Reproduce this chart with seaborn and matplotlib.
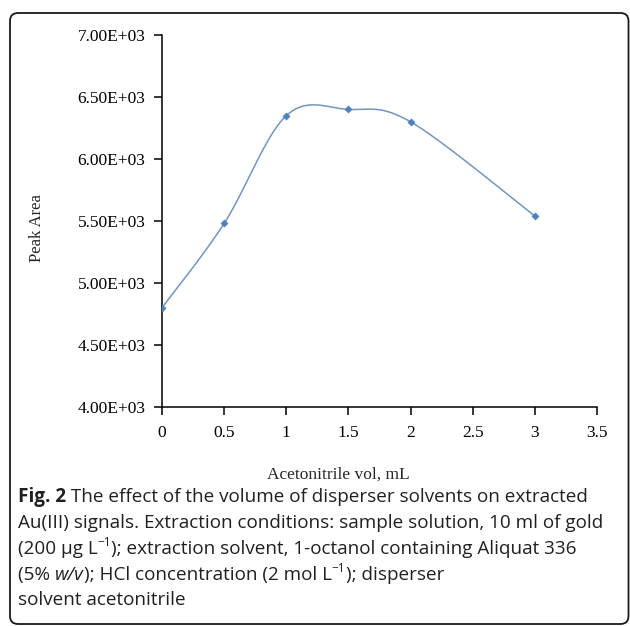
import numpy as np
import matplotlib
matplotlib.use("Agg")
import matplotlib.pyplot as plt
from matplotlib.patches import FancyBboxPatch
from matplotlib.ticker import FuncFormatter, MultipleLocator
import seaborn as sns

# data
vol = [0, 0.5, 1, 1.5, 2, 3]
area = [4800, 5480, 6350, 6400, 6300, 5540]

xticks = [0, 0.5, 1, 1.5, 2, 2.5, 3, 3.5]
xlabel = "Acetonitrile vol, mL"
ylabel = "Peak Area"

# caption lines: (text, style, position)
caption = [
    [("Fig. 2", "bold", None), (" The effect of the volume of disperser solvents on extracted", None, None)],
    [("Au(III) signals. Extraction conditions: sample solution, 10 ml of gold", None, None)],
    [("(200 μg L", None, None), ("−1", None, "sup"), ("); extraction solvent, 1-octanol containing Aliquat 336", None, None)],
    [("(5% ", None, None), ("w/v", "italic", None), ("); HCl concentration (2 mol L", None, None), ("−1", None, "sup"), ("); disperser", None, None)],
    [("solvent acetonitrile", None, None)],
]

sns.set_style("white")
plt.rcParams["font.family"] = ["Liberation Serif", "DejaVu Serif"]


def excel_smooth(x, y, sx, sy, n=40):
    # catmull-rom style bezier like excel "smoothed line", done in screen units
    px = np.asarray(x, float) * sx
    py = np.asarray(y, float) * sy
    pts = np.column_stack([px, py])
    out = []
    for i in range(len(pts) - 1):
        p0 = pts[i - 1] if i > 0 else pts[i]
        p1 = pts[i]
        p2 = pts[i + 1]
        p3 = pts[i + 2] if i + 2 < len(pts) else pts[i + 1]
        c1 = p1 + (p2 - p0) / 6
        c2 = p2 - (p3 - p1) / 6
        t = np.linspace(0, 1, n)[:, None]
        seg = (1 - t) ** 3 * p1 + 3 * (1 - t) ** 2 * t * c1 + 3 * (1 - t) * t ** 2 * c2 + t ** 3 * p2
        out.append(seg if i == 0 else seg[1:])
    out = np.vstack(out)
    return out[:, 0] / sx, out[:, 1] / sy


fig = plt.figure(figsize=(6.3, 6.26), dpi=100)

# background layer in pixel units for the frame and caption
bg = fig.add_axes([0, 0, 1, 1], zorder=0)
bg.set_xlim(0, 630)
bg.set_ylim(626, 0)
bg.axis("off")
frame = FancyBboxPatch((10, 13), 618.5, 611, boxstyle="round,pad=0,rounding_size=8",
                       fc="white", ec="#1a1a1a", lw=1.3)
bg.add_patch(frame)

ax = fig.add_axes([162 / 630, 1 - 407 / 626, 435 / 630, 372 / 626], zorder=1)
ax.patch.set_alpha(0)

sx = 435 / 3.5
sy = 372 / 3000
cx, cy = excel_smooth(vol, area, sx, sy)
sns.lineplot(x=cx, y=cy, ax=ax, color="#7396bc", lw=1.1, sort=False, estimator=None)
sns.scatterplot(x=vol, y=area, ax=ax, marker="D", s=14, color="#4f81bd", edgecolor="#4f81bd", zorder=3)

ax.set_xlim(0, 3.5)
ax.set_ylim(4000, 7000)
ax.set_xticks(xticks)
ax.set_xticklabels([f"{v:g}" for v in xticks])
ax.yaxis.set_major_locator(MultipleLocator(500))
ax.yaxis.set_major_formatter(FuncFormatter(lambda v, p: f"{v:.2E}"))
for s in ["top", "right"]:
    ax.spines[s].set_visible(False)
for s in ["left", "bottom"]:
    ax.spines[s].set_color("black")
    ax.spines[s].set_linewidth(1.1)
ax.tick_params(axis="both", direction="out", length=6, width=1.1, color="black",
               labelsize=12.5, labelcolor="black", bottom=True, left=True)
ax.tick_params(axis="x", pad=7)
ax.tick_params(axis="y", pad=6)
ax.set_xlabel(xlabel, fontsize=12.5)
ax.set_ylabel(ylabel, fontsize=12)
ax.xaxis.set_label_coords(0.405, -0.161)
ax.yaxis.set_label_coords(-0.269, 0.481)

# caption, drawn piece by piece (bold / italic / superscript runs)
fig.canvas.draw()
renderer = fig.canvas.get_renderer()
cap_size = 13.6
cap_font = ["Open Sans", "DejaVu Sans"]
baselines = [502, 528, 554, 580, 605]
for line, base in zip(caption, baselines):
    x = 18
    for txt, style, pos in line:
        kw = dict(family=cap_font, fontsize=cap_size, color="#231f20", va="baseline", ha="left")
        y = base
        if style == "bold":
            kw["weight"] = "bold"
        if style == "italic":
            kw["style"] = "italic"
        if pos == "sup":
            kw["fontsize"] = cap_size * 0.62
            y = base - 8
        t = bg.text(x, y, txt, **kw)
        x += t.get_window_extent(renderer).width

fig.savefig("out.png", dpi=100)
